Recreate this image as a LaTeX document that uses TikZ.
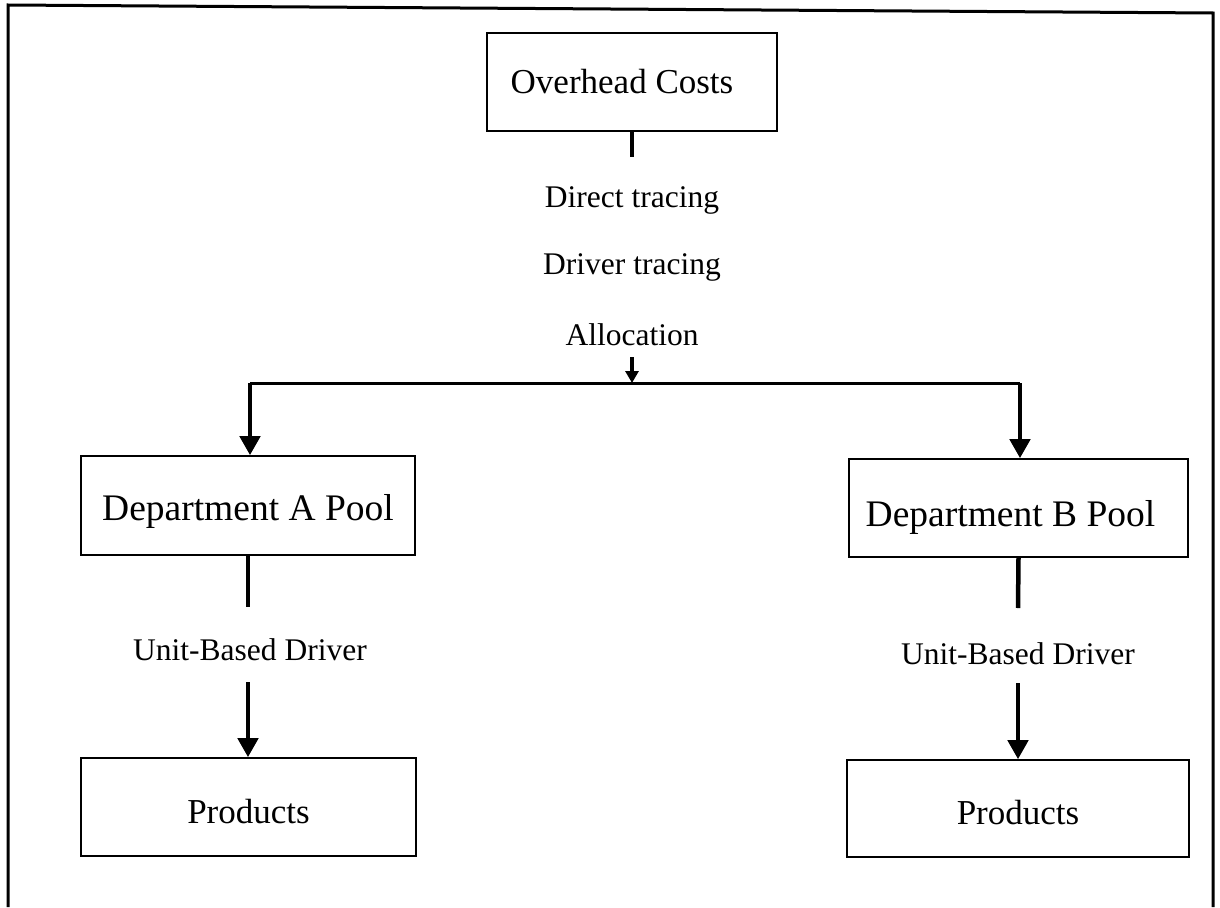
\documentclass[tikz,border=0pt]{standalone}
\usepackage{fontspec}
\setmainfont{Liberation Serif}
\usetikzlibrary{arrows.meta}
\newcommand\mvtxt[3]{\raisebox{#2}[\height][\depth]{\kern#1\relax #3\kern-#1\relax}}
\begin{document}
\begin{tikzpicture}[x=1pt,y=-1pt,
  box/.style={draw, line width=1.6pt, inner sep=0pt, font=\fontsize{35}{40}\selectfont},
  dept/.style={box, font=\fontsize{37.5}{42}\selectfont},
  lbl/.style={inner sep=0pt, font=\fontsize{31.5}{36}\selectfont},
  stub/.style={line width=4.5pt},
  conn/.style={line width=4.5pt, -{Triangle[width=20pt,length=19pt]}},
  hline/.style={line width=3pt},
  frame/.style={line width=3pt}]
\useasboundingbox (0,0) rectangle (1220,907);
% outer frame
\coordinate (f1) at (8,907);
\coordinate (f2) at (8,5);
\coordinate (f3) at (1213,13);
\coordinate (f4) at (1213,907);
\draw[frame] (f1) -- (f2) -- (f3) -- (f4);
% boxes
\node[box, minimum width=290pt, minimum height=98pt] (oh) at (632,82) {\mvtxt{-10pt}{0pt}{Overhead Costs}};
\node[dept, minimum width=334pt, minimum height=99pt] (da) at (248,505.5) {\mvtxt{0pt}{-6pt}{Department A Pool}};
\node[dept, minimum width=339pt, minimum height=98pt] (db) at (1018.5,508) {\mvtxt{-8pt}{-9pt}{Department B Pool}};
\node[box, minimum width=335pt, minimum height=98pt] (pa) at (248.5,807) {\mvtxt{0pt}{-5pt}{Products}};
\node[box, minimum width=342pt, minimum height=97pt] (pb) at (1018,808.5) {\mvtxt{0pt}{-4pt}{Products}};
% labels
\node[lbl] (l1) at (632,200) {Direct tracing};
\node[lbl] (l2) at (632,267) {Driver tracing};
\node[lbl] (l3) at (632,335) {Allocation};
\node[lbl] (ua) at (250,650) {Unit-Based Driver};
\node[lbl] (ub) at (1018,654) {Unit-Based Driver};
% coordinates
\coordinate (ohs) at (632,157);
\coordinate (alt) at (632,357);
\coordinate (jm) at (632,383);
\coordinate (jl) at (250,383);
\coordinate (jr) at (1020,383);
\coordinate (das) at (248,607);
\coordinate (dat) at (248,682);
\coordinate (dbs) at (1018,608);
\coordinate (dbt) at (1018,683);
% connectors
\draw[stub] (oh.south) -- (ohs);
\draw[line width=3.5pt, -{Triangle[width=13pt,length=12pt]}] (alt) -- (jm);
\draw[hline] (jl) -- (jr);
\draw[conn] (jl) -- (jl |- da.north);
\draw[conn] (jr) -- (jr |- db.north);
\draw[stub] (da.south) -- (das);
\draw[conn] (dat) -- (pa.north -| dat);
\draw[stub] (db.south) -- (dbs);
\draw[conn] (dbt) -- (pb.north -| dbt);
\end{tikzpicture}
\end{document}
